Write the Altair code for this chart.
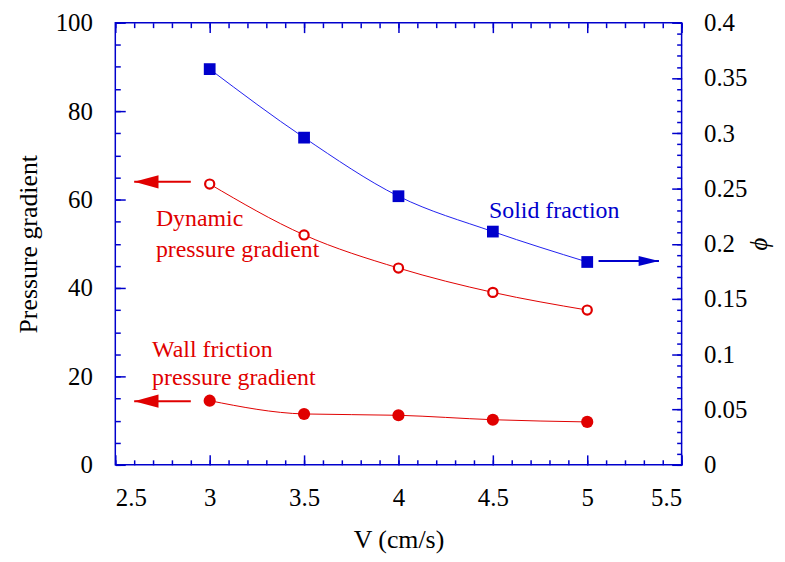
"""Pressure gradient and solid fraction against velocity, as an Altair chart."""

import pandas as pd
import altair as alt

velocity = [3.0, 3.5, 4.0, 4.5, 5.0]
solid_fraction = [0.358, 0.296, 0.243, 0.211, 0.1835]
dynamic_gradient = [63.5, 52.0, 44.5, 39.0, 35.0]
wall_gradient = [14.5, 11.5, 11.2, 10.2, 9.7]

x_major = [2.5, 3.0, 3.5, 4.0, 4.5, 5.0, 5.5]
x_minor = [round(2.5 + 0.1 * i, 1) for i in range(31)]
y_major = [0, 20, 40, 60, 80, 100]
y_minor = list(range(0, 101, 5))
phi_major = [0, 0.05, 0.1, 0.15, 0.2, 0.25, 0.3, 0.35, 0.4]
phi_minor = [round(0.01 * i, 2) for i in range(41)]

# annotations, in (V, pressure gradient) units
label_text = ["Solid fraction", "Dynamic", "pressure gradient", "Wall friction", "pressure gradient"]
label_x = [4.48, 2.715, 2.715, 2.695, 2.695]
label_y = [57.3, 55.6, 48.5, 25.9, 19.7]
label_color = ["blue", "red", "red", "red", "red"]

arrow_tail = [2.9, 2.9, 5.06]
arrow_tip = [2.6, 2.6, 5.38]
arrow_y = [64.0, 14.4, 46.1]
arrow_color = ["red", "red", "blue"]

BLUE = "#0000cc"
RED = "#e00000"
FONT = "Liberation Serif"

X_DOM = [2.5, 5.5]
Y_DOM = [0, 100]
PHI_DOM = [0, 0.4]

df = pd.DataFrame(
    {
        "V": velocity,
        "phi": solid_fraction,
        "dynamic": dynamic_gradient,
        "wall": wall_gradient,
    }
)
labels = pd.DataFrame({"text": label_text, "x": label_x, "y": label_y, "c": label_color})
arrows = pd.DataFrame({"tail": arrow_tail, "tip": arrow_tip, "y": arrow_y, "c": arrow_color})

color_scale = alt.Scale(domain=["red", "blue"], range=[RED, BLUE])


def xs(field="V", axis=None):
    if axis is None:
        return alt.X(f"{field}:Q", scale=alt.Scale(domain=X_DOM, nice=False), axis=None)
    return alt.X(f"{field}:Q", scale=alt.Scale(domain=X_DOM, nice=False), axis=axis)


def ys(field, domain=Y_DOM, axis=None):
    if axis is None:
        return alt.Y(f"{field}:Q", scale=alt.Scale(domain=domain, nice=False), axis=None)
    return alt.Y(f"{field}:Q", scale=alt.Scale(domain=domain, nice=False), axis=axis)


def tick_axis(orient, values, size):
    return alt.Axis(
        orient=orient,
        values=values,
        tickSize=size,
        offset=-size,
        tickColor=BLUE,
        tickWidth=1.5,
        labels=False,
        domain=False,
        grid=False,
        title="",
    )


def axis_layer(x_axis, y_axis, y_field="dynamic", domain=Y_DOM):
    return (
        alt.Chart(df)
        .mark_point(opacity=0)
        .encode(x=xs(axis=x_axis), y=ys(y_field, domain, y_axis))
    )


label_style = dict(
    labelFont=FONT,
    labelFontSize=25,
    labelColor="black",
    titleFont=FONT,
    titleFontWeight="normal",
    titleColor="black",
    ticks=False,
    domain=False,
    grid=False,
    format="~r",
)

# inward ticks on all four sides, labels on bottom / left / right
ticks_major = axis_layer(tick_axis("bottom", x_major, 10), tick_axis("left", y_major, 10))
ticks_minor = axis_layer(tick_axis("bottom", x_minor, 5), tick_axis("left", y_minor, 5))
ticks_top = axis_layer(tick_axis("top", x_major, 10), tick_axis("right", phi_major, 10), "phi", PHI_DOM)
ticks_top_minor = axis_layer(tick_axis("top", x_minor, 5), tick_axis("right", phi_minor, 5), "phi", PHI_DOM)

left_labels = axis_layer(
    alt.Axis(
        orient="bottom", values=x_major, labelPadding=21,
        title="V (cm/s)", titleFontSize=26, titlePadding=16, **label_style,
    ),
    alt.Axis(
        orient="left", values=y_major, labelPadding=23,
        title="Pressure  gradient", titleFontSize=26, titlePadding=14, **label_style,
    ),
)
right_labels = axis_layer(
    None,
    alt.Axis(
        orient="right", values=phi_major, labelPadding=22,
        title="ϕ", titleFontStyle="italic", titleFontSize=25, titlePadding=3, **label_style,
    ),
    "phi",
    PHI_DOM,
)

# curves
phi_line = alt.Chart(df).mark_line(color="#2020ee", strokeWidth=1, interpolate="monotone").encode(
    x=xs(), y=ys("phi", PHI_DOM)
)
phi_points = alt.Chart(df).mark_point(shape="square", filled=True, size=140, opacity=1, color=BLUE).encode(
    x=xs(), y=ys("phi", PHI_DOM)
)
dyn_line = alt.Chart(df).mark_line(color=RED, strokeWidth=1, interpolate="monotone").encode(
    x=xs(), y=ys("dynamic")
)
dyn_points = alt.Chart(df).mark_point(
    shape="circle", filled=True, fill="white", stroke=RED, strokeWidth=2.2, size=85, opacity=1
).encode(x=xs(), y=ys("dynamic"))
wall_line = alt.Chart(df).mark_line(color=RED, strokeWidth=1, interpolate="monotone").encode(
    x=xs(), y=ys("wall")
)
wall_points = alt.Chart(df).mark_point(shape="circle", filled=True, size=150, opacity=1, color=RED).encode(
    x=xs(), y=ys("wall")
)

# annotations
texts = alt.Chart(labels).mark_text(
    font=FONT, fontSize=24, align="left", baseline="middle"
).encode(
    x=xs("x"),
    y=ys("y"),
    text="text:N",
    color=alt.Color("c:N", scale=color_scale, legend=None),
)
shafts = alt.Chart(arrows).mark_rule(strokeWidth=2).encode(
    x=xs("tail"),
    x2="tip:Q",
    y=ys("y"),
    color=alt.Color("c:N", scale=color_scale, legend=None),
)
heads = alt.Chart(arrows).mark_point(filled=True, opacity=1, strokeWidth=0).encode(
    x=xs("tip"),
    y=ys("y"),
    color=alt.Color("c:N", scale=color_scale, legend=None),
    shape=alt.Shape(
        "c:N",
        scale=alt.Scale(domain=["red", "blue"], range=["M0,0L2,-0.55L2,0.55Z", "M0,0L-2,-0.5L-2,0.5Z"]),
        legend=None,
    ),
    size=alt.Size("c:N", scale=alt.Scale(domain=["red", "blue"], range=[600, 420]), legend=None),
)

chart = (
    alt.layer(
        ticks_major,
        ticks_minor,
        ticks_top,
        ticks_top_minor,
        left_labels,
        right_labels,
        shafts,
        heads,
        phi_line,
        dyn_line,
        wall_line,
        phi_points,
        dyn_points,
        wall_points,
        texts,
    )
    .resolve_scale(x="independent", y="independent", color="shared")
    .resolve_axis(x="independent", y="independent")
    .properties(
        width=570,
        height=445,
        autosize=alt.AutoSizeParams(type="none"),
        padding={"left": 108, "top": 13, "right": 96, "bottom": 89},
        background="white",
    )
    .configure_view(stroke=BLUE, strokeWidth=1.5)
)

chart.save("out.html", embed_options={"renderer": "svg", "actions": False})
